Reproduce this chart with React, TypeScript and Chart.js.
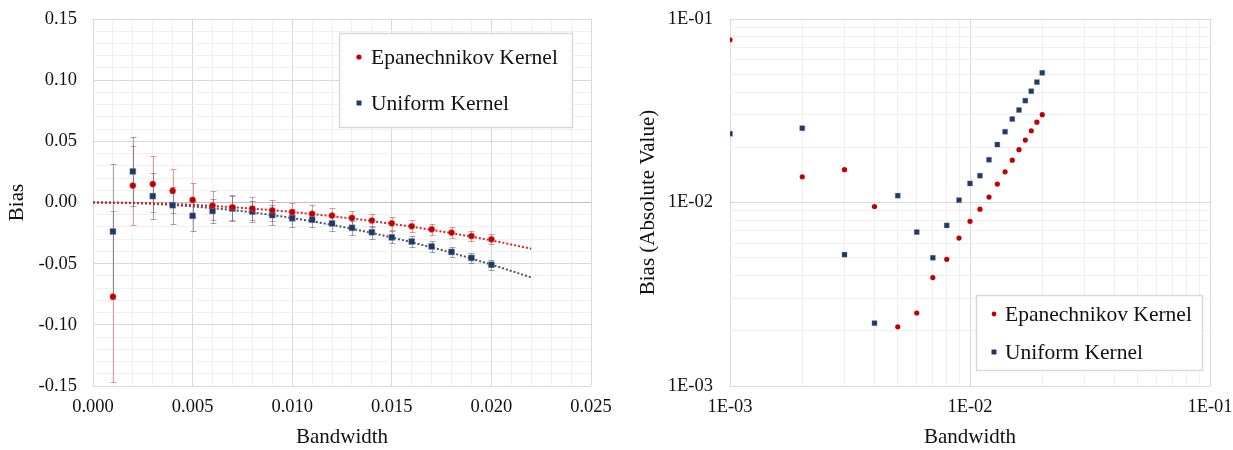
import React, { useEffect, useRef } from 'react';
import { Chart, registerables } from 'chart.js';
Chart.register(...registerables);

const SERIF = '"Liberation Serif", "Times New Roman", serif';

// ---------- data ----------
const bandwidth = [0.001, 0.002, 0.003, 0.004, 0.005, 0.006, 0.007, 0.008, 0.009, 0.010,
  0.011, 0.012, 0.013, 0.014, 0.015, 0.016, 0.017, 0.018, 0.019, 0.020];
const epanBias = [-0.0770, 0.0138, 0.0151, 0.0095, 0.0021, -0.0025, -0.0039, -0.0049, -0.0064, -0.0079,
  -0.0092, -0.0107, -0.0126, -0.0147, -0.0170, -0.0194, -0.0219, -0.0246, -0.0274, -0.0301];
const uniformBias = [-0.0237, 0.0254, 0.0052, -0.0022, -0.0109, -0.0069, -0.0050, -0.0075, -0.0103, -0.0127,
  -0.0140, -0.0171, -0.0207, -0.0243, -0.0285, -0.0319, -0.0359, -0.0404, -0.0453, -0.0509];
const epanErr = [0.070, 0.032, 0.023, 0.018, 0.014, 0.012, 0.010, 0.009, 0.0085, 0.0075,
  0.0068, 0.0063, 0.0060, 0.0056, 0.0052, 0.0049, 0.0047, 0.0044, 0.0042, 0.0040];
const uniformErr = [0.055, 0.028, 0.019, 0.015, 0.0125, 0.010, 0.010, 0.0085, 0.008, 0.007,
  0.0062, 0.0059, 0.0056, 0.0053, 0.0050, 0.0048, 0.0046, 0.0044, 0.0042, 0.0040];
const trendX = [0, 0.002, 0.004, 0.006, 0.008, 0.010, 0.012, 0.014, 0.016, 0.018, 0.020, 0.022];
const epanTrend = [0, -0.0003, -0.0012, -0.0028, -0.0050, -0.0078, -0.0112, -0.0152, -0.0198, -0.0251, -0.0310, -0.0378];
const uniformTrend = [0, -0.0005, -0.0020, -0.0046, -0.0081, -0.0127, -0.0183, -0.0249, -0.0325, -0.0411, -0.0508, -0.0612];

const seriesNames = ['Epanechnikov Kernel', 'Uniform Kernel'];
const logTickValues = [0.001, 0.002, 0.003, 0.004, 0.005, 0.006, 0.007, 0.008, 0.009,
  0.01, 0.02, 0.03, 0.04, 0.05, 0.06, 0.07, 0.08, 0.09, 0.1];
const logMajorLabels: Record<string, string> = { '0.001': '1E-03', '0.01': '1E-02', '0.1': '1E-01' };

// ---------- styles ----------
const RED = '#C00000';
const BLUE = '#203864';
const RED_TREND = '#E02020';
const BLUE_TREND = '#44546A';
const RED_ERR = 'rgba(214, 70, 70, 0.55)';
const BLUE_ERR = 'rgba(80, 96, 122, 0.55)';
const BLUE_EDGE = 'rgba(120, 140, 170, 0.6)';
const GRID_MAJOR = '#D9D9D9';
const GRID_MINOR = '#F0F0F0';
const TEXT = '#111';

const isMultiple = (v: number, step: number) => Math.abs(v / step - Math.round(v / step)) < 1e-6;

function makeErrorBars(specs: { index: number; errors: number[]; color: string }[]) {
  return {
    id: 'errorBars',
    beforeDatasetsDraw(chart: any) {
      const { ctx, scales } = chart;
      specs.forEach((sp) => {
        const ds = chart.data.datasets[sp.index];
        ctx.save();
        ctx.strokeStyle = sp.color;
        ctx.lineWidth = 1;
        ds.data.forEach((p: any, j: number) => {
          const e = sp.errors[j];
          const x = Math.round(scales.x.getPixelForValue(p.x)) + 0.5;
          const y1 = Math.round(scales.y.getPixelForValue(p.y + e)) + 0.5;
          const y2 = Math.round(scales.y.getPixelForValue(p.y - e)) + 0.5;
          ctx.beginPath();
          ctx.moveTo(x, y1); ctx.lineTo(x, y2);
          ctx.moveTo(x - 3, y1); ctx.lineTo(x + 3, y1);
          ctx.moveTo(x - 3, y2); ctx.lineTo(x + 3, y2);
          ctx.stroke();
        });
        ctx.restore();
      });
    },
  };
}

function makeBoxLegend(cfg: {
  dx: number; dy: number; w: number; h: number; markerX: number; textX: number;
  firstRow: number; rowGap: number; circleR: number; square: number;
}) {
  return {
    id: 'boxLegend',
    afterDraw(chart: any) {
      const { ctx, chartArea } = chart;
      const x0 = Math.round(chartArea.left + cfg.dx);
      const y0 = Math.round(chartArea.top + cfg.dy);
      ctx.save();
      ctx.fillStyle = '#fff';
      ctx.fillRect(x0, y0, cfg.w, cfg.h);
      ctx.strokeStyle = GRID_MAJOR;
      ctx.lineWidth = 1.5;
      ctx.strokeRect(x0 + 0.5, y0 + 0.5, cfg.w, cfg.h);
      seriesNames.forEach((name, k) => {
        const cy = y0 + cfg.firstRow + k * cfg.rowGap;
        const mx = x0 + cfg.markerX;
        if (k === 0) {
          ctx.fillStyle = RED;
          ctx.beginPath();
          ctx.arc(mx, cy, cfg.circleR, 0, Math.PI * 2);
          ctx.fill();
        } else {
          ctx.fillStyle = BLUE;
          ctx.fillRect(mx - cfg.square / 2, cy - cfg.square / 2, cfg.square, cfg.square);
        }
        ctx.fillStyle = TEXT;
        ctx.font = `21.5px ${SERIF}`;
        ctx.textBaseline = 'middle';
        ctx.textAlign = 'left';
        ctx.fillText(name, x0 + cfg.textX, cy + 1);
      });
      ctx.restore();
    },
  };
}

const tickFont = { family: SERIF, size: 18.5 };
const titleFont = { family: SERIF, size: 21 };

export default function App() {
  const leftRef = useRef<HTMLCanvasElement>(null);
  const rightRef = useRef<HTMLCanvasElement>(null);

  useEffect(() => {
    const xLinTicks: number[] = [];
    for (let i = 0; i <= 25; i++) xLinTicks.push(i / 1000);
    const yLinTicks: number[] = [];
    for (let i = -15; i <= 15; i++) yLinTicks.push(i / 100);

    const left = new Chart(leftRef.current as HTMLCanvasElement, {
      type: 'scatter',
      data: {
        datasets: [
          {
            label: seriesNames[0],
            data: bandwidth.map((x, i) => ({ x, y: epanBias[i] })),
            backgroundColor: RED, borderColor: 'rgba(230, 90, 90, 0.6)', borderWidth: 0.8,
            pointStyle: 'circle', pointRadius: 3.1, pointHoverRadius: 3.1, order: 1,
          },
          {
            label: seriesNames[1],
            data: bandwidth.map((x, i) => ({ x, y: uniformBias[i] })),
            backgroundColor: BLUE, borderColor: BLUE_EDGE, borderWidth: 0.8,
            pointStyle: 'rect', pointRadius: 4.2, pointHoverRadius: 4.2, order: 2,
          },
          {
            label: 'Epanechnikov trend',
            data: trendX.map((x, i) => ({ x, y: epanTrend[i] })),
            showLine: true, pointRadius: 0, borderColor: RED_TREND, borderWidth: 2,
            borderDash: [2, 2], cubicInterpolationMode: 'monotone', order: 3,
          } as any,
          {
            label: 'Uniform trend',
            data: trendX.map((x, i) => ({ x, y: uniformTrend[i] })),
            showLine: true, pointRadius: 0, borderColor: BLUE_TREND, borderWidth: 2,
            borderDash: [2, 2], cubicInterpolationMode: 'monotone', order: 4,
          } as any,
        ],
      },
      options: {
        responsive: false,
        animation: false,
        events: [],
        layout: { padding: { left: 0, right: 25, top: 19, bottom: 0 } },
        plugins: { legend: { display: false }, tooltip: { enabled: false } },
        scales: {
          x: {
            type: 'linear', min: 0, max: 0.025,
            afterBuildTicks: (s: any) => { s.ticks = xLinTicks.map((v) => ({ value: v })); },
            afterFit: (s: any) => { s.height = 64; s.paddingLeft = 0; s.paddingRight = 0; },
            ticks: {
              autoSkip: false, maxRotation: 0, padding: 10, color: TEXT, font: tickFont,
              callback: (v: any) => (isMultiple(v, 0.005) ? Number(v).toFixed(3) : ''),
            },
            grid: {
              drawTicks: false, lineWidth: 1,
              color: (c: any) => (c.tick && isMultiple(c.tick.value, 0.005) ? GRID_MAJOR : GRID_MINOR),
            },
            border: { display: false },
            title: { display: true, text: 'Bandwidth', color: TEXT, font: titleFont, padding: { top: 0, bottom: 0 } },
          },
          y: {
            type: 'linear', min: -0.15, max: 0.15,
            afterBuildTicks: (s: any) => { s.ticks = yLinTicks.map((v) => ({ value: v })); },
            afterFit: (s: any) => { s.width = 93; s.paddingTop = 0; s.paddingBottom = 0; },
            ticks: {
              autoSkip: false, padding: 16, color: TEXT, font: tickFont,
              callback: (v: any) => {
                if (!isMultiple(v, 0.05)) return '';
                const n = Math.abs(v) < 1e-9 ? 0 : Number(v);
                return n.toFixed(2);
              },
            },
            grid: {
              drawTicks: false, lineWidth: 1,
              color: (c: any) => {
                if (!c.tick) return GRID_MINOR;
                if (Math.abs(c.tick.value) < 1e-9) return '#BFBFBF';
                return isMultiple(c.tick.value, 0.05) ? GRID_MAJOR : GRID_MINOR;
              },
            },
            border: { display: false },
            title: { display: true, text: 'Bias', color: TEXT, font: titleFont, padding: { top: 5, bottom: 0 } },
          },
        },
      } as any,
      plugins: [
        makeErrorBars([
          { index: 0, errors: epanErr, color: RED_ERR },
          { index: 1, errors: uniformErr, color: BLUE_ERR },
        ]),
        makeBoxLegend({ dx: 246, dy: 14, w: 233, h: 94, markerX: 20, textX: 32, firstRow: 24, rowGap: 46, circleR: 2.6, square: 5 }),
      ],
    });

    const right = new Chart(rightRef.current as HTMLCanvasElement, {
      type: 'scatter',
      data: {
        datasets: [
          {
            label: seriesNames[0],
            data: bandwidth.map((x, i) => ({ x, y: Math.abs(epanBias[i]) })),
            backgroundColor: RED, borderColor: RED, borderWidth: 0,
            pointStyle: 'circle', pointRadius: 2.6, pointHoverRadius: 2.6, order: 1,
          },
          {
            label: seriesNames[1],
            data: bandwidth.map((x, i) => ({ x, y: Math.abs(uniformBias[i]) })),
            backgroundColor: BLUE, borderColor: BLUE_EDGE, borderWidth: 0.6,
            pointStyle: 'rect', pointRadius: 3.6, pointHoverRadius: 3.6, order: 2,
          },
        ],
      },
      options: {
        responsive: false,
        animation: false,
        events: [],
        layout: { padding: { left: 0, right: 23, top: 19, bottom: 0 } },
        plugins: { legend: { display: false }, tooltip: { enabled: false } },
        scales: {
          x: {
            type: 'logarithmic', min: 0.001, max: 0.1,
            afterBuildTicks: (s: any) => { s.ticks = logTickValues.map((v) => ({ value: v })); },
            afterFit: (s: any) => { s.height = 64; s.paddingLeft = 0; s.paddingRight = 0; },
            ticks: {
              autoSkip: false, maxRotation: 0, padding: 10, color: TEXT, font: tickFont,
              callback: (v: any) => logMajorLabels[String(Number(v))] || '',
            },
            grid: {
              drawTicks: false, lineWidth: 1,
              color: (c: any) => (c.tick && logMajorLabels[String(c.tick.value)] ? GRID_MAJOR : GRID_MINOR),
            },
            border: { display: false },
            title: { display: true, text: 'Bandwidth', color: TEXT, font: titleFont, padding: { top: 0, bottom: 0 } },
          },
          y: {
            type: 'logarithmic', min: 0.001, max: 0.1,
            afterBuildTicks: (s: any) => { s.ticks = logTickValues.map((v) => ({ value: v })); },
            afterFit: (s: any) => { s.width = 100; s.paddingTop = 0; s.paddingBottom = 0; },
            ticks: {
              autoSkip: false, padding: 17, color: TEXT, font: tickFont,
              callback: (v: any) => logMajorLabels[String(Number(v))] || '',
            },
            grid: {
              drawTicks: false, lineWidth: 1,
              color: (c: any) => (c.tick && logMajorLabels[String(c.tick.value)] ? GRID_MAJOR : GRID_MINOR),
            },
            border: { display: false },
            title: { display: true, text: 'Bias (Absolute Value)', color: TEXT, font: titleFont, padding: { top: 6, bottom: 0 } },
          },
        },
      } as any,
      plugins: [
        makeBoxLegend({ dx: 246, dy: 276, w: 226, h: 75, markerX: 18, textX: 29, firstRow: 19, rowGap: 38, circleR: 2.4, square: 5 }),
      ],
    });

    return () => {
      left.destroy();
      right.destroy();
    };
  }, []);

  return (
    <div style={{ position: 'fixed', left: 0, top: 0, width: 1233, height: 450, background: '#fff' }}>
      <canvas ref={leftRef} width={616} height={450}
        style={{ position: 'absolute', left: 0, top: 0, width: 616, height: 450 }} />
      <canvas ref={rightRef} width={603} height={450}
        style={{ position: 'absolute', left: 630, top: 0, width: 603, height: 450 }} />
    </div>
  );
}
